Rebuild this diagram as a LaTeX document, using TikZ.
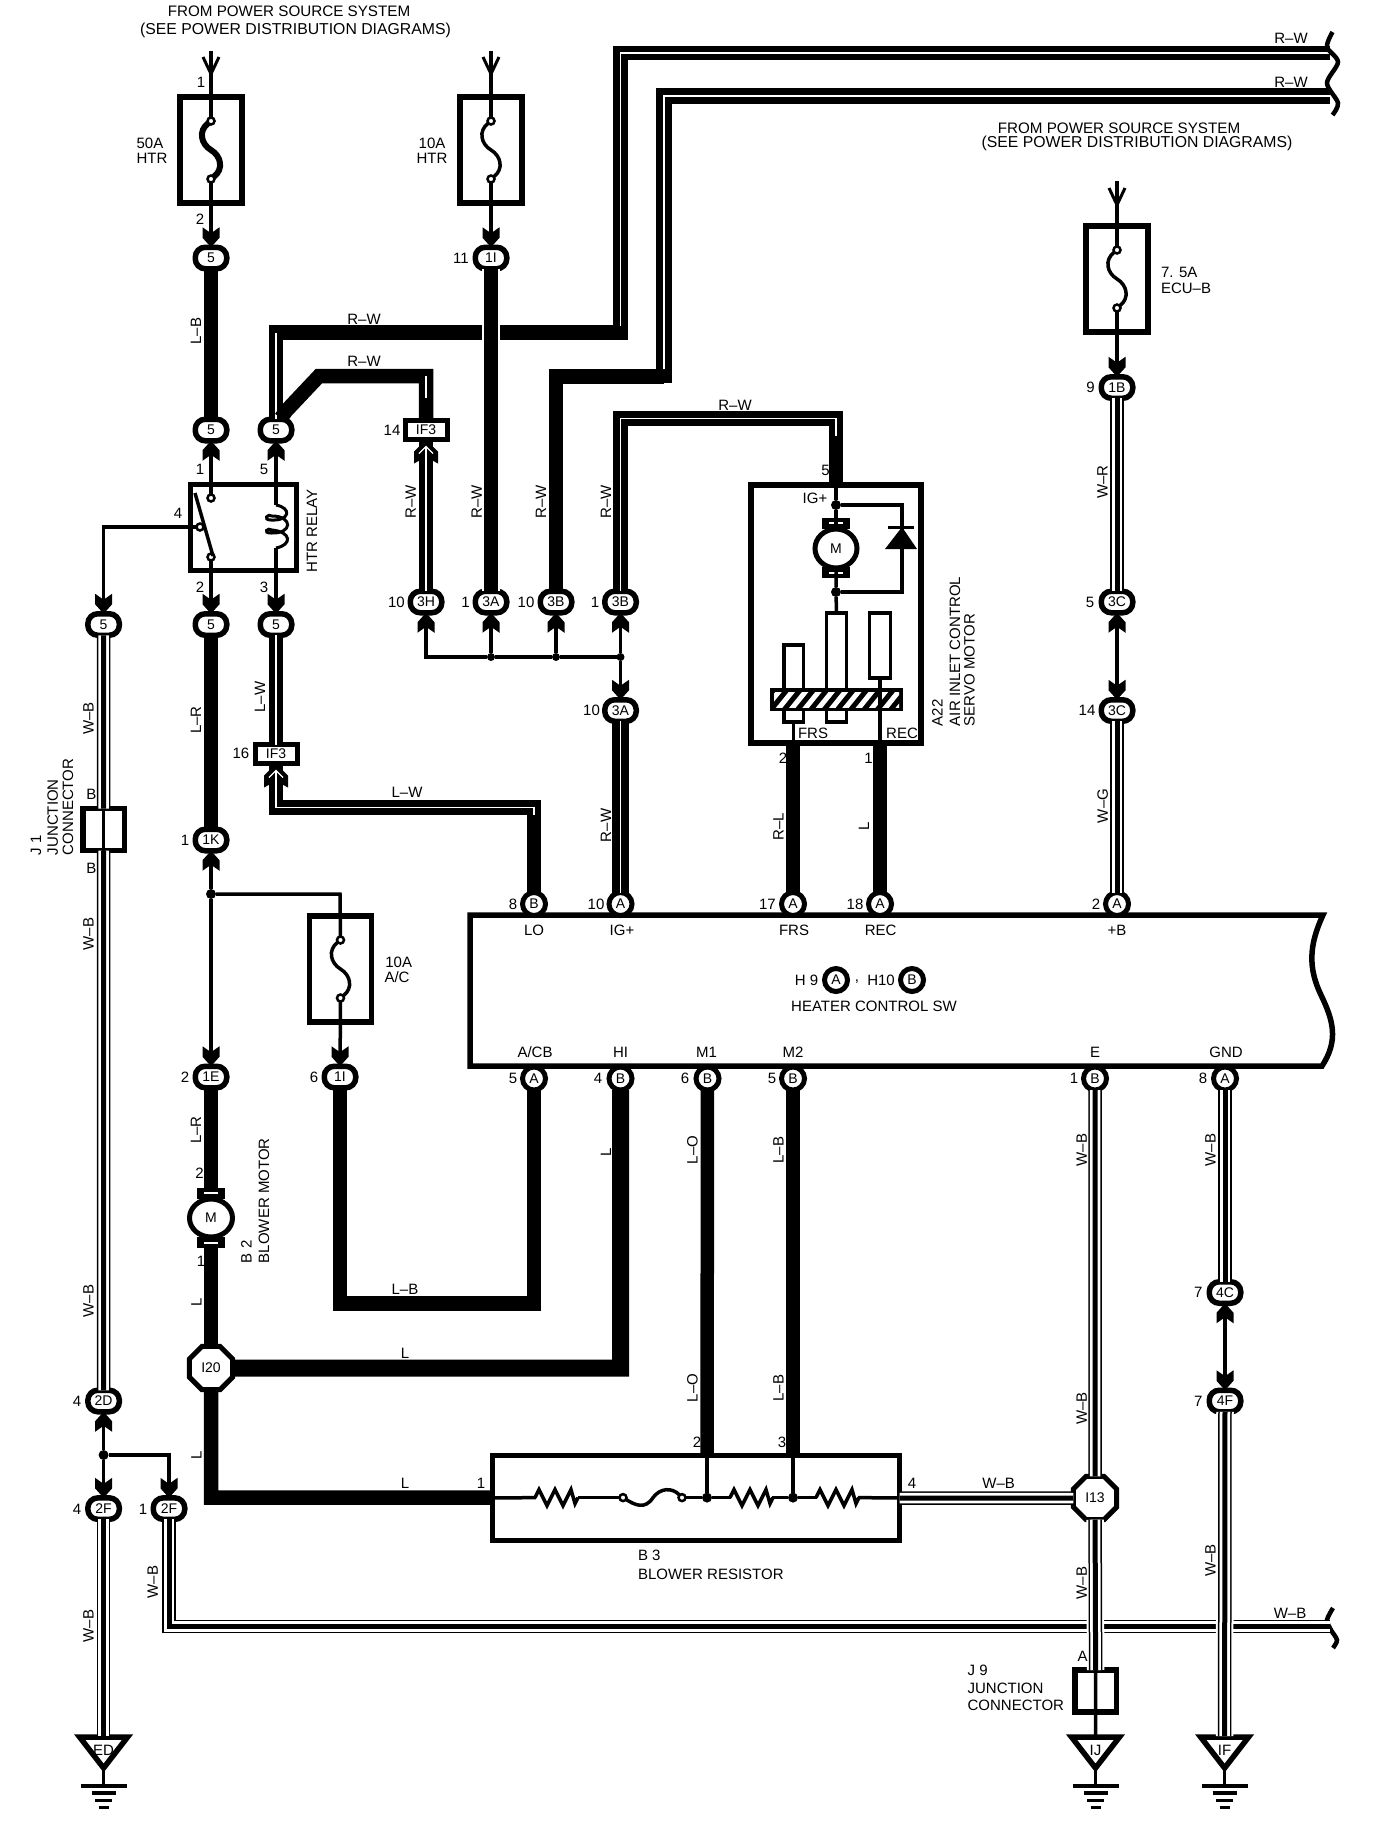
\documentclass[tikz,border=0pt]{standalone}
\usepackage{fontspec}
\setmainfont{Liberation Sans}
\usetikzlibrary{shapes.geometric,calc}
\newcounter{tn}
\newcommand\T[3][]{\stepcounter{tn}\node[lbl,#1] (t\arabic{tn}) at (#2) {#3};}
\newcommand\R[2]{\T[rotate=90]{#1}{#2}}
\newcommand\fuse[4]{%
  \node[boxn,minimum width=62pt,minimum height=106pt] (#1) at (#2,#3) {};
  \node[pinn] (#1t) at (#2,#3-29) {};
  \node[pinn] (#1b) at (#2,#3+29) {};
  \draw[line width=#4] (#1t) .. controls (#2-13,#3-19) and (#2-10,#3-6) .. (#2,#3) .. controls (#2+10,#3+6) and (#2+13,#3+19) .. (#1b);
}
\newcommand\gnd[3]{%
  \coordinate (#1) at (#2,1736);
  \draw[line width=5.5pt,fill=white] (#2-24,1737) -- (#2+24,1737) -- (#2,1768) -- cycle;
  \draw[line width=3.5pt] (#2,1768) -- (#2,1786);
  \draw[line width=3.5pt] (#2-23,1786) -- (#2+23,1786);
  \draw[line width=4pt] (#2-12,1793) -- (#2+12,1793);
  \draw[line width=3pt] (#2-8.5,1800) -- (#2+8.5,1800);
  \draw[line width=3pt] (#2-5,1807) -- (#2+5,1807);
  \T{#2,1750}{#3}
}
\newcommand\brushes[2]{%
  \fill (#1-14,#2-30) rectangle (#1+14,#2-19);
  \fill (#1-14,#2+19) rectangle (#1+14,#2+30);
  \draw[white,line width=1.5pt] (#1-7,#2-25) -- (#1+7,#2-25);
  \draw[white,line width=1.5pt] (#1-7,#2+25) -- (#1+7,#2+25);
}
\begin{document}
\begin{tikzpicture}[x=1pt,y=-1pt,line join=miter,
  lbl/.style={inner sep=0pt,outer sep=0pt,font=\fontsize{15}{16}\selectfont},
  bigA/.style={inner sep=0pt,font=\fontsize{15.2}{16}\selectfont},
  bigB/.style={inner sep=0pt,font=\fontsize{15.8}{16}\selectfont},
  conn/.style={rectangle,rounded corners=10pt,draw,fill=white,line width=5.5pt,minimum width=31.5pt,minimum height=21.5pt,inner sep=0pt,outer sep=0pt,font=\fontsize{14}{14}\selectfont},
  sconn/.style={circle,draw,fill=white,line width=5pt,minimum size=23pt,inner sep=0pt,outer sep=0pt,font=\fontsize{14}{14}\selectfont},
  recn/.style={rectangle,draw,fill=white,line width=5pt,minimum width=42pt,minimum height=19pt,inner sep=0pt,outer sep=0pt,font=\fontsize{14}{14}\selectfont},
  octn/.style={regular polygon,regular polygon sides=8,draw,fill=white,line width=5pt,minimum size=47pt,inner sep=0pt,outer sep=0pt,font=\fontsize{14}{14}\selectfont},
  boxn/.style={rectangle,draw,fill=white,line width=5.5pt,inner sep=0pt,outer sep=0pt},
  pinn/.style={circle,draw,fill=white,line width=2.5pt,minimum size=7pt,inner sep=0pt,outer sep=0pt},
  dotn/.style={circle,fill=black,minimum size=10pt,inner sep=0pt,outer sep=0pt},
  thinw/.style={line width=3.5pt},
  wire/.style={line width=14.5pt},
  rv/.style={line width=15.8pt},
  fat/.style={line width=17pt},
  stripe/.style={draw=white,line width=1.1pt},
  wb/.style={line width=13.5pt,postaction={draw=white,line width=10.5pt},postaction={draw=black,line width=5pt}},
  halo/.style={preaction={draw=white,line width=17.5pt}},
  slim/.style={rectangle,draw,fill=white,line width=3.5pt,inner sep=0pt,outer sep=0pt},
  chev/.pic={\fill (-8.5,-20) -- (-8.5,-9.5) -- (0,0) -- (8.5,-9.5) -- (8.5,-20) -- (0,-14) -- cycle;},
  chevb/.pic={\fill (0,0) -- (-12,12) -- (-12,24) -- (-6.5,21) -- (6.5,21) -- (12,24) -- (12,12) -- cycle;
     \draw[white,line width=1.2pt] (-7,14) -- (0,7) -- (7,14);
     \draw[white,line width=1.2pt] (0,7) -- (0,22);},
  oarr/.pic={\draw[line width=3pt] (-8,-17) -- (0,0) -- (8,-17);},
  zig/.pic={\draw[line width=3.5pt] (-1,0) -- (3,-8) -- (11,8) -- (19,-8) -- (27,8) -- (35,-8) -- (39,6) -- (42,0);}
]
\fill[white] (0,0) rectangle (1376,1826);
\useasboundingbox (0,0) rectangle (1376,1826);

% ---------- bend coordinates
\coordinate (a50) at (211,51);
\coordinate (a10) at (491,51);
\coordinate (a75) at (1117,181);
\coordinate (k1) at (276,332.5);
\coordinate (k2) at (620.5,332.5);
\coordinate (k3) at (620.5,53);
\coordinate (e1) at (1330,53);
\coordinate (k5) at (281,418);
\coordinate (k6) at (286,411);
\coordinate (k7) at (319,376);
\coordinate (k8) at (426,376);
\coordinate (k9) at (426,398);
\coordinate (k10) at (556,376.4);
\coordinate (k11) at (664,376.4);
\coordinate (k12) at (664,96);
\coordinate (e2) at (1330,96);
\coordinate (k13) at (620.5,418.5);
\coordinate (k14) at (836,418.5);
\coordinate (k15) at (836,436);
\coordinate (k16) at (276,807.5);
\coordinate (k17) at (534,807.5);
\coordinate (k18) at (534,815);
\coordinate (k4) at (103.6,527);
\coordinate (k19) at (340,894);
\coordinate (k20) at (340,1303.5);
\coordinate (k21) at (534,1303.5);
\coordinate (k22) at (620.5,1368);
\coordinate (k23) at (211,1497.6);
\coordinate (k24) at (169,1626.5);
\coordinate (e3) at (1330,1626.5);
\coordinate (k25) at (902,505);
\coordinate (k26) at (902,592);

% ---------- fuses
\fuse{fA}{211}{150}{6pt}
\fuse{fB}{491}{150}{3.5pt}
\fuse{fC}{1117}{279}{3.5pt}
\fuse{fD}{340.5}{969}{3.5pt}

% ---------- connectors
\node[conn] (c5a) at (211,258) {5};
\node[conn] (c1I) at (491,258) {1I};
\node[conn] (c5b) at (211,430) {5};
\node[conn] (c5c) at (276,430) {5};
\node[recn] (ifa) at (426,430) {IF3};
\node[conn] (c3H) at (426,602) {3H};
\node[conn] (c3A) at (491,602) {3A};
\node[conn] (c3B) at (556,602) {3B};
\node[conn] (c3C) at (620.5,602) {3B};
\node[conn] (c5d) at (103.6,624.5) {5};
\node[conn] (c5e) at (211,624.5) {5};
\node[conn] (c5f) at (276,624.5) {5};
\node[conn] (c3D) at (620.5,710.5) {3A};
\node[recn] (ifb) at (276,754) {IF3};
\node[conn] (c1K) at (211,840) {1K};
\node[conn] (c1E) at (211,1077) {1E};
\node[conn] (c1J) at (340,1077) {1I};
\node[conn] (c1B) at (1117,387.5) {1B};
\node[conn] (c3E) at (1117,602) {3C};
\node[conn] (c3F) at (1117,710.5) {3C};
\node[conn] (c4C) at (1225,1292.5) {4C};
\node[conn] (c4F) at (1225,1401) {4F};
\node[conn] (c2D) at (103.6,1401) {2D};
\node[conn] (c2F) at (103.6,1508.6) {2F};
\node[conn] (c2G) at (169,1508.6) {2F};
\node[octn] (i20) at (211,1368) {I20};
\node[octn] (i13) at (1095,1498) {I13};
\node[boxn,minimum width=41.5pt,minimum height=42pt] (j1) at (103.5,829.5) {};
\node[boxn,minimum width=41.5pt,minimum height=42pt] (j9) at (1095.7,1691) {};

% ---------- heater control switch
\draw[line width=5.5pt,fill=white] (470,915) -- (1323,915)
   .. controls (1309,945) and (1308,968) .. (1321,995)
   .. controls (1333,1020) and (1339,1040) .. (1322,1066)
   -- (470,1066) -- cycle;
\node[sconn] (sB8) at (534,904) {B};
\node[sconn] (sA10) at (620.5,904) {A};
\node[sconn] (sA17) at (793,904) {A};
\node[sconn] (sA18) at (880,904) {A};
\node[sconn] (sA2) at (1117,904) {A};
\node[sconn] (sA5) at (534,1078.5) {A};
\node[sconn] (sB4) at (620.5,1078.5) {B};
\node[sconn] (sB6) at (707.5,1078.5) {B};
\node[sconn] (sB5) at (793,1078.5) {B};
\node[sconn] (sB1) at (1095,1078.5) {B};
\node[sconn] (sA8) at (1225,1078.5) {A};
\node[sconn] (sH9) at (836,980) {A};
\node[sconn] (sH10) at (912,980) {B};

% ---------- relay
\node[boxn,minimum width=106pt,minimum height=86pt] (rel) at (243.5,527.5) {};
\node[pinn] (rt) at (211,498) {};
\node[pinn] (rb) at (211,557) {};
\node[pinn] (rm) at (200,527) {};
\coordinate (cu1) at (276,505);
\coordinate (cu2) at (276,548);
\draw[line width=3.5pt] (195,493) -- (213,556);
\draw[line width=3pt] (cu1) .. controls (292,508) and (290,521) .. (271,520)
   .. controls (262,520) and (268,513) .. (272,516)
   .. controls (293,516) and (293,534) .. (271,533)
   .. controls (262,533) and (268,527) .. (272,530)
   .. controls (292,532) and (292,545) .. (cu2);
\draw[thinw] (c5b) -- (rt);
\draw[thinw] (rb) -- (c5e);
\draw[thinw] (c5c) -- (cu1);
\draw[thinw] (cu2) -- (c5f);
\draw[thinw] (rm) -- (k4) -- (c5d);
\pic at (c5d.north) {chev};
\pic at (c5e.north) {chev};
\pic at (c5f.north) {chev};
\pic[yscale=-1] at (c5b.south) {chev};
\pic[yscale=-1] at (c5c.south) {chev};

% ---------- servo motor
\node[boxn,minimum width=170pt,minimum height=258pt] (sv) at (836,614) {};
\node[slim,minimum width=19.5pt,minimum height=77pt] (rL) at (793.5,683.5) {};
\node[slim,minimum width=20pt,minimum height=109pt] (rM) at (836.5,667.5) {};
\node[slim,minimum width=21pt,minimum height=65pt] (rR) at (880,645.5) {};
\fill (770,688) rectangle (903,711);
\begin{scope}
  \clip (774,692) rectangle (899,707);
  \foreach \x in {764,777.3,...,910} {\draw[white,line width=5pt] (\x,710) -- (\x+17,689);}
\end{scope}
\brushes{836}{548}
\node[ellipse,draw,fill=white,line width=5pt,minimum width=42pt,minimum height=39pt,inner sep=0pt,outer sep=0pt,font=\fontsize{14}{14}\selectfont] (mS) at (836,548.5) {M};
\node[dotn] (dT) at (836,505) {};
\node[dotn] (dB) at (836,592) {};
\draw[thinw] (sv.north) -- (dT) -- (mS);
\draw[thinw] (mS) -- (dB) -- (rM.north);
\draw[thinw] (dT) -- (k25) -- (k26) -- (dB);
\fill (885,549) -- (917,549) -- (902,527) -- cycle;
\draw[line width=3pt] (888,527) -- (914,527);
\draw[thinw] (rL.south) -- (rL |- sv.south);
\draw[thinw] (rR.south) -- (rR |- sv.south);

% ---------- wires, top right
\draw[wire] (c5c) -- (k1) -- (k2);
\draw[rv] (k1 -| k2) ++(0,7) -- (k3);
\draw[wire] ($(k3)+(-7.9,0)$) -- (e1);
\draw[stripe] (c5c) -- (k1);
\draw[stripe] ($(k2)+(0,-7)$) -- (k3) -- (e1);
\draw[wire] (k5) -- (k6) -- (k7) -- (k8) -- (ifa);
\draw[stripe] (k8) -- (k9);
\draw[wire] (c3B) -- (k10) -- (k11);
\draw[rv] ($(k11)+(0,7)$) -- (k12);
\draw[line width=15.8pt] ($(k12)+(-7.9,0)$) -- (e2);
\draw[stripe] ($(k11)+(0,-7)$) -- (k12) -- (e2);
\draw[wire] (c3C) -- (k13);
\draw[wire] ($(k13)+(-7.2,0)$) -- (k14) -- (sv.north);
\draw[stripe] (c3C) -- (k13) -- (k14) -- (k15);
\draw[wire] (ifa) -- (c3H);
\draw[stripe] ($(ifa.south)+(0,20)$) -- (c3H);
\pic at (ifa.south) {chevb};
\draw[wire,halo] (c1I) -- (c3A);
\draw[wire] (c5a) -- (c5b);
\draw[thinw] (a50) -- (fAt);
\draw[thinw] (fAb) -- (c5a);
\draw[thinw] (a10) -- (fBt);
\draw[thinw] (fBb) -- (c1I);
\draw[thinw] (a75) -- (fCt);
\draw[thinw] (fCb) -- (c1B);
\pic at (211,74) {oarr};
\pic at (491,74) {oarr};
\pic at (1117,205) {oarr};
\pic at (c5a.north) {chev};
\pic at (c1I.north) {chev};
\pic at (c1B.north) {chev};

% ---------- breaks
\draw[line width=4.5pt] plot[smooth] coordinates {(1332.5,32) (1327,47) (1338,62) (1327,83) (1338,103) (1332.5,115)};
\draw[line width=4.5pt] plot[smooth] coordinates {(1333,1608) (1327,1620) (1331,1630) (1337,1640) (1333,1648)};

% ---------- junction row
\node[dotn,minimum size=8pt] (d1) at (491,657) {};
\node[dotn,minimum size=8pt] (d2) at (556,657) {};
\node[dotn,minimum size=8pt] (d3) at (620.5,657) {};
\coordinate (d0) at (426,657);
\draw[thinw] (c3H) -- (d0) -- (d1) -- (d2) -- (d3) -- (c3C);
\draw[thinw] (d1) -- (c3A);
\draw[thinw] (d2) -- (c3B);
\draw[thinw] (d3) -- (c3D);
\pic[yscale=-1] at (c3H.south) {chev};
\pic[yscale=-1] at (c3A.south) {chev};
\pic[yscale=-1] at (c3B.south) {chev};
\pic[yscale=-1] at (c3C.south) {chev};
\pic at (c3D.north) {chev};
\draw[line width=16.5pt] (c3D) -- (sA10);
\draw[stripe] (c3D) -- (sA10);

% ---------- left blower side
\draw[wire] (c5e) -- (c1K);
\draw[wire] (c5f) -- (ifb);
\draw[stripe] (c5f) -- (ifb);
\draw[wire] (ifb) -- (k16) -- (k17) -- (sB8);
\draw[stripe] ($(ifb.south)+(0,20)$) -- (k16) -- (k17) -- (k18);
\pic at (ifb.south) {chevb};
\node[dotn] (dJ) at (211,894) {};
\draw[thinw] (c1K) -- (dJ) -- (c1E);
\draw[thinw] (dJ) -- (k19) -- (fDt);
\draw[thinw] (fDb) -- (c1J);
\pic[yscale=-1] at (c1K.south) {chev};
\pic at (c1E.north) {chev};
\pic at (c1J.north) {chev};
\draw[wire] (c1J) -- (k20) -- (k21) -- (sA5);

% blower motor
\brushes{211}{1218}
\node[ellipse,draw,fill=white,line width=5pt,minimum width=43pt,minimum height=38pt,inner sep=0pt,outer sep=0pt,font=\fontsize{14}{14}\selectfont] (mB) at (211,1218) {M};
\coordinate (mBt) at (211,1190);
\coordinate (mBb) at (211,1247);
\draw[wire] (c1E) -- (mBt);
\draw[wire] (mBb) -- (i20);
\draw[fat] (i20) -- (k22) -- (sB4);
\coordinate (brl) at (491,1497.6);
\draw[wire] (i20) -- (k23) -- (brl);

% ---------- servo to switch
\draw[wire] (sA17) -- (sA17 |- sv.south);
\draw[wire] (sA18) -- (sA18 |- sv.south);
\draw[wb] (c1B) -- (c3E);
\draw[thinw] (c3E) -- (c3F);
\pic[yscale=-1] at (c3E.south) {chev};
\pic at (c3F.north) {chev};
\draw[wb] (c3F) -- (sA2);

% ---------- blower resistor
\node[boxn,minimum width=407pt,minimum height=85pt] (brs) at (696,1498) {};
\node[dotn] (dM1) at (707,1497.6) {};
\node[dotn] (dM2) at (793,1497.6) {};
\node[pinn] (pa) at (623,1497.6) {};
\node[pinn] (pb) at (682,1497.6) {};
\coordinate (z1) at (536,1497.6);
\coordinate (z2) at (578,1497.6);
\coordinate (z3) at (731,1497.6);
\coordinate (z4) at (772,1497.6);
\coordinate (z5) at (817,1497.6);
\coordinate (z6) at (858,1497.6);
\pic at (z1) {zig};
\pic at (z3) {zig};
\pic at (z5) {zig};
\draw[thinw] (brs.west) -- (z1);
\draw[thinw] (z2) -- (pa);
\draw[line width=3.5pt] (pa) .. controls (635,1505) and (645,1510) .. (653,1497.6) .. controls (660,1488) and (672,1487) .. (pb);
\draw[thinw] (pb) -- (dM1) -- (z3);
\draw[thinw] (z4) -- (dM2) -- (z5);
\draw[thinw] (z6) -- (brs.east);
\draw[thinw] (dM1) -- (dM1 |- brs.north);
\draw[thinw] (dM2) -- (dM2 |- brs.north);
\draw[line width=13.5pt] (sB6) -- (dM1 |- brs.north);
\draw[line width=14pt] (sB5) -- (dM2 |- brs.north);

% ---------- W-B wires
\draw[wb] (c5d) -- (j1);
\draw[wb] (j1) -- (c2D);
\draw[thinw] (j1.north) -- (j1.south);
\node[dotn] (dG) at (103.6,1455) {};
\coordinate (k27) at (169,1455);
\draw[thinw] (c2D) -- (dG) -- (c2F);
\draw[thinw] (dG) -- (k27) -- (c2G);
\pic[yscale=-1] at (c2D.south) {chev};
\pic at (c2F.north) {chev};
\pic at (c2G.north) {chev};
\draw[wb] (c2G) -- (k24) -- (e3);
\gnd{gED}{103.6}{ED}
\gnd{gIJ}{1095.5}{IJ}
\gnd{gIF}{1224.6}{IF}
\draw[wb] (c2F) -- (gED);
\draw[wb] (sB1) -- (i13);
\draw[wb] (brs.east) -- (i13);
\draw[wb,halo] (i13) -- (j9);
\draw[thinw] (j9.north) -- (j9.south) -- (gIJ);
\draw[wb] (sA8) -- (c4C);
\draw[thinw] (c4C) -- (c4F);
\pic[yscale=-1] at (c4C.south) {chev};
\pic at (c4F.north) {chev};
\draw[wb,halo] (c4F) -- (gIF);

% ---------- big labels
\stepcounter{tn}\node[bigA] (t\arabic{tn}) at (289,11) {FROM POWER SOURCE SYSTEM};
\stepcounter{tn}\node[bigB] (t\arabic{tn}) at (295.5,30) {(SEE POWER DISTRIBUTION DIAGRAMS)};
\stepcounter{tn}\node[bigA] (t\arabic{tn}) at (1119,128) {FROM POWER SOURCE SYSTEM};
\stepcounter{tn}\node[bigB] (t\arabic{tn}) at (1137,143.5) {(SEE POWER DISTRIBUTION DIAGRAMS)};

% ---------- fuse labels
\T{150,143}{50A}
\T{152,158}{HTR}
\T{432,143}{10A}
\T{432,158}{HTR}
\T[anchor=west]{1161,272}{7. 5A}
\T[anchor=west]{1161,288.6}{ECU–B}
\T{398.7,962.6}{10A}
\T{397,977.6}{A/C}

% ---------- pin numbers
\T{201,82}{1}
\T{200,219.5}{2}
\T{461,258}{11}
\T{200,469}{1}
\T{264,469}{5}
\T{178,513}{4}
\T{200,587}{2}
\T{264,587}{3}
\T{392,430}{14}
\T{396.4,602}{10}
\T{465.6,602}{1}
\T{526,602}{10}
\T{595,602}{1}
\T{591.5,710.7}{10}
\T{241,753.5}{16}
\T{185,840}{1}
\T{185,1077}{2}
\T{314,1077}{6}
\T{199.6,1173}{2}
\T{201,1261}{1}
\T{825.6,470}{5}
\T{1090.6,387}{9}
\T{1090,602}{5}
\T{1087,710.5}{14}
\T{783,758}{2}
\T{868.6,758}{1}
\T{513,904}{8}
\T{596,904}{10}
\T{767.4,904}{17}
\T{855,904}{18}
\T{1096,904}{2}
\T{513,1078.5}{5}
\T{598,1078.5}{4}
\T{685,1078.5}{6}
\T{772,1078.5}{5}
\T{1074,1078.5}{1}
\T{1203,1078.5}{8}
\T{1198.4,1292.5}{7}
\T{1198.4,1401}{7}
\T{77,1401}{4}
\T{77,1509}{4}
\T{143,1509}{1}
\T{481,1483}{1}
\T{697,1442}{2}
\T{782,1442}{3}
\T{912,1483}{4}
\T{91.5,794}{B}
\T{91.5,868}{B}
\T{1082.6,1656.8}{A}

% ---------- wire colours
\R{196,331}{L–B}
\T{364,319}{R–W}
\T{364,361}{R–W}
\R{410.7,502}{R–W}
\R{476.8,502}{R–W}
\R{541,502}{R–W}
\R{606,502}{R–W}
\T{1291,38}{R–W}
\T{1291,82}{R–W}
\T{735,405}{R–W}
\R{1102.5,482}{W–R}
\R{1102.6,806}{W–G}
\R{196,720}{L–R}
\R{260,697}{L–W}
\T{407,792.5}{L–W}
\R{606,825.4}{R–W}
\R{778.5,827}{R–L}
\R{864,826}{L}
\R{88.4,718.6}{W–B}
\R{88.4,934}{W–B}
\R{88.4,1301}{W–B}
\R{88.4,1626}{W–B}
\R{152.7,1582}{W–B}
\R{196,1130}{L–R}
\R{196.4,1302}{L}
\R{196.4,1455.6}{L}
\R{606,1152}{L}
\T{405,1289}{L–B}
\T{405,1353}{L}
\T{405,1483}{L}
\R{692.4,1150}{L–O}
\R{778.5,1150}{L–B}
\R{692.4,1388}{L–O}
\R{778.5,1388}{L–B}
\R{1081.7,1150}{W–B}
\R{1081.7,1408.4}{W–B}
\R{1081.7,1583}{W–B}
\R{1210.4,1150}{W–B}
\R{1210.4,1560.5}{W–B}
\T{998.7,1483}{W–B}
\T{1290,1613.5}{W–B}

% ---------- switch labels
\T{534,930}{LO}
\T{622,930}{IG+}
\T{794,930}{FRS}
\T{880.6,930}{REC}
\T{1117,930}{+B}
\T{535,1052}{A/CB}
\T{620.5,1052}{HI}
\T{706.6,1052}{M1}
\T{793,1052}{M2}
\T{1095,1052}{E}
\T{1226,1052}{GND}
\T{806.5,980}{H 9}
\T{857,982}{,}
\T{881,980}{H10}
\T{874,1006}{HEATER CONTROL SW}

% ---------- servo labels
\T{815,498}{IG+}
\T{813,733}{FRS}
\T{902,733}{REC}
\T[rotate=90,anchor=west]{937.4,726}{A22}
\T[rotate=90,anchor=west]{955,726}{AIR INLET CONTROL}
\T[rotate=90,anchor=west]{969.4,726}{SERVO MOTOR}

% ---------- component labels
\T[rotate=90]{312,531}{HTR RELAY}
\T[rotate=90,anchor=west]{36,855}{J 1}
\T[rotate=90,anchor=west]{52.7,855}{JUNCTION}
\T[rotate=90,anchor=west]{68,855}{CONNECTOR}
\T[rotate=90,anchor=west]{246.4,1263}{B 2}
\T[rotate=90,anchor=west]{264,1263}{BLOWER MOTOR}
\T[anchor=west]{638,1555}{B 3}
\T[anchor=west]{638,1574}{BLOWER RESISTOR}
\T[anchor=west]{967.6,1670}{J 9}
\T[anchor=west]{967.6,1688.6}{JUNCTION}
\T[anchor=west]{967.6,1705}{CONNECTOR}
\end{tikzpicture}
\end{document}
